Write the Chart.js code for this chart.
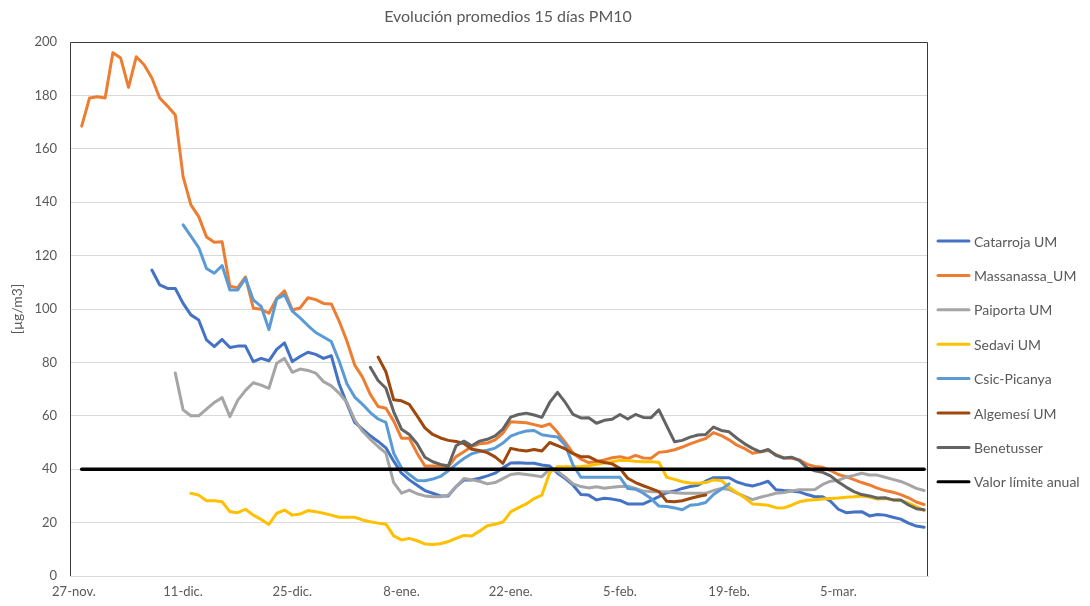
<!DOCTYPE html>
<html>
<head>
<meta charset="utf-8">
<script src="https://cdn.jsdelivr.net/npm/chart.js@4/dist/chart.umd.min.js"></script>
<style>
  html, body { margin: 0; padding: 0; background: #fff; }
  #wrap { width: 1090px; height: 606px; }
</style>
</head>
<body>
<div id="wrap"><canvas id="chart" width="1090" height="606"></canvas></div>
<script>
// Titoli ed etichette
const chartTitle = 'Evolución promedios 15 días PM10';
const yTitle = '[µg/m3]';
const tickLabels = ['27-nov.', '11-dic.', '25-dic.', '8-ene.', '22-ene.', '5-feb.', '19-feb.', '5-mar.'];
const tickEvery = 14;
const numDays = 110; // 27-nov .. 16-mar

// Serie giornaliere (primo giorno = indice dal 27-nov)
const catarrojaStart = 10;
const catarroja = [114.6, 109, 107.7, 107.7, 102.1, 97.8, 95.9, 88.4, 85.9, 88.6,
  85.6, 86.1, 86.1, 80.3, 81.5, 80.6, 84.9, 87.3, 80.3, 82.2,
  83.8, 83, 81.5, 82.5, 72, 64.5, 57.5, 55, 52.5, 50.4,
  48, 43, 38.5, 36, 34, 32, 31, 30, 30, 33.5,
  36, 36, 36.6, 37.5, 38.5, 40.5, 42.3, 42.4, 42.2, 42.2,
  41.6, 41.2, 38.5, 36.5, 34, 30.5, 30.3, 28.5, 29.1, 28.8,
  28.3, 27, 27, 27, 28.3, 29.7, 31.2, 31.8, 32.8, 33.5,
  34, 35.5, 36.8, 36.8, 36.8, 35.2, 34.3, 33.7, 34.5, 35.5,
  32.3, 32, 31.8, 31.5, 30.5, 29.7, 29.7, 28, 25, 23.7,
  24, 24.1, 22.5, 23, 22.8, 22, 21.3, 19.8, 18.7, 18.3];

const massanassaStart = 1;
const massanassa = [168.5, 179, 179.5, 179, 196, 194, 183, 194.5, 191.5, 186.5,
  179, 176, 172.7, 149.6, 139, 134.6, 127, 125, 125.2, 108.5,
  108, 112, 100.3, 99.9, 98.4, 104, 106.8, 99.6, 100.4, 104.2,
  103.5, 102.1, 101.9, 95.5, 88, 79, 74.5, 68, 63.5, 62.8,
  58, 51.6, 51.6, 46, 41.2, 41.2, 41.2, 41, 44.7, 46.5,
  48.5, 49.5, 49.8, 51, 53.5, 57.8, 57.6, 57.4, 56.7, 56,
  57, 53.8, 50, 46, 43.8, 42.5, 42.8, 43.5, 44.3, 44.7,
  44, 45.2, 44.2, 44.1, 46.3, 46.6, 47.3, 48.3, 49.5, 50.5,
  51.5, 53.7, 52.6, 51, 49, 47.7, 46, 46.5, 47, 45.5,
  44.2, 44.1, 43.5, 41.8, 41, 40.7, 39.5, 38, 37.2, 36.1,
  35, 34.1, 32.9, 32, 31.4, 30.5, 29.3, 27.7, 26.8];

const paiportaStart = 13;
const paiporta = [76, 62.2, 60, 60, 62.5, 65, 66.8,
  59.7, 65.8, 69.5, 72.4, 71.5, 70.3, 79.7, 81.5, 76.3, 77.5,
  77, 76, 72.8, 71.2, 68.5, 65, 58.5, 54.2, 51.2, 48.5,
  46, 35, 31, 32.2, 30.8, 30, 29.7, 29.7, 30.3, 33.4,
  36.5, 36, 35.5, 34.5, 35, 36.5, 38, 38.4, 38, 37.6,
  37.2, 40, 39.3, 37, 34.5, 33.5, 33, 33.4, 32.9, 33.2,
  33.5, 33.6, 32.8, 31.8, 31.6, 31.6, 31.6, 31.2, 31, 31,
  31, 31, 32, 32.8, 32.4, 31, 29.8, 28.6, 29.5, 30.2,
  31, 31.3, 31.8, 32.3, 32.3, 32.4, 34.3, 35.5, 35.8, 37,
  37.7, 38.5, 37.8, 37.8, 37, 36.2, 35.4, 34.2, 32.8, 32];

const sedaviStart = 15;
const sedavi = [31, 30.3, 28.2, 28.2, 27.8,
  24.1, 23.7, 25, 22.8, 21.2, 19.3, 23.5, 24.7, 22.8, 23.2,
  24.5, 24.1, 23.5, 22.8, 22, 22, 22, 21, 20.3, 19.8,
  19.4, 15, 13.5, 14.1, 13.2, 12, 11.8, 12.1, 12.9, 14.1,
  15.2, 15, 16.8, 18.8, 19.4, 20.2, 24, 25.6, 27, 29,
  30.3, 38.7, 40.9, 40.9, 40.9, 41, 41.3, 41.8, 42.3, 42.8,
  43.3, 43.3, 43, 42.8, 42.8, 42.6, 37, 36.2, 35.3, 34.8,
  34.7, 35, 36, 35.8, 33.2, 31.2, 29.3, 27, 26.8, 26.5,
  25.6, 25.5, 26.5, 27.8, 28.4, 28.6, 28.8, 29, 29.2, 29.5,
  29.7, 30, 29.6, 28.8, 29, 28.6, 28.3, 27.3, 26, 24.5];

const csicStart = 14;
const csic = [131.5, 127.3, 123, 115.2, 113.4, 116.3,
  107.1, 107.1, 111.5, 103.4, 101, 92.3, 103.8, 105.3, 99.2, 96.7,
  93.8, 91.2, 89.5, 87.8, 80.5, 72, 67, 64.3, 61.2, 58.8,
  57.5, 46, 40.5, 38, 35.8, 35.7, 36.3, 37.3, 39.4, 41.8,
  44, 45.8, 46.6, 47.1, 47.9, 49.8, 52.4, 53.5, 54.3, 54.5,
  52.9, 52.4, 52.1, 49, 41.5, 37, 37, 37, 37, 37,
  37, 32.8, 32.5, 31, 29, 26.2, 26, 25.5, 24.8, 26.5,
  26.8, 27.5, 30.5, 32.5, 34.5];

const algemesiStart = 39;
const algemesi = [82, 76.5, 66, 65.6, 64.3, 60, 55.5, 53, 51.7, 50.8, 50.4,
  49.6, 47.5, 47, 46.2, 44.6, 42.2, 47.8, 47.2, 46.8, 47.4,
  46.8, 50, 48.8, 47.6, 45.8, 44.7, 44.7, 43.2, 42.5, 42,
  40.3, 36.6, 35, 33.8, 32.7, 31.6, 28, 27.8, 28.2, 29,
  29.8, 30.3];

const benetusserStart = 38;
const benetusser = [78.2, 73.2, 70.3, 61.5, 55, 53, 49.5, 44.5, 42.8, 41.8, 41.2, 48.8,
  50.5, 48.8, 50.5, 51.2, 52.5, 55, 59.5, 60.5, 61, 60.3,
  59.4, 65, 68.8, 65, 60.5, 59.2, 59.3, 57.2, 58.3, 58.7,
  60.5, 58.8, 60.5, 59.4, 59.3, 62.2, 56.2, 50.3, 50.8, 52,
  52.8, 53, 55.8, 54.5, 54, 51.6, 49.5, 47.8, 46.5, 47.4,
  45.2, 44.2, 44.5, 43.3, 40.5, 39.4, 38.8, 37.5, 35.2, 33.3,
  31.6, 30.5, 30, 29.2, 29.3, 28.5, 28.5, 26.6, 25.2, 24.8];

// Valor limite anual: dal primo all'ultimo giorno
const limitValue = 40;
const limitFirstDay = 1;
const limitLastDay = 109;

const FONT = 'Lato';
const TEXT_COLOR = '#595959';

function pad(start, values) {
  const out = new Array(numDays).fill(null);
  values.forEach((v, i) => { out[start + i] = v; });
  return out;
}

function limitData() {
  const out = new Array(numDays).fill(null);
  out[limitFirstDay] = limitValue;
  out[limitLastDay] = limitValue;
  return out;
}

const dayLabels = Array.from({ length: numDays }, (_, i) => i);

const series = [
  { label: 'Catarroja UM', color: '#4472C4', data: pad(catarrojaStart, catarroja) },
  { label: 'Massanassa_UM', color: '#ED7D31', data: pad(massanassaStart, massanassa) },
  { label: 'Paiporta UM', color: '#A5A5A5', data: pad(paiportaStart, paiporta) },
  { label: 'Sedavi UM', color: '#FFC000', data: pad(sedaviStart, sedavi) },
  { label: 'Csic-Picanya', color: '#5B9BD5', data: pad(csicStart, csic) },
  { label: 'Algemesí UM', color: '#9E480E', data: pad(algemesiStart, algemesi) },
  { label: 'Benetusser', color: '#636363', data: pad(benetusserStart, benetusser) },
  { label: 'Valor límite anual', color: '#000000', data: limitData(), width: 3.5 }
];

// Titolo centrato come in Excel
const titlePlugin = {
  id: 'excelTitle',
  afterDraw(chart) {
    const ctx = chart.ctx;
    ctx.save();
    ctx.font = '16px ' + FONT;
    ctx.fillStyle = TEXT_COLOR;
    ctx.textAlign = 'center';
    ctx.textBaseline = 'middle';
    ctx.fillText(chartTitle, 508, 17);
    ctx.restore();
  }
};

// Bordo dell'area del grafico (sopra, sinistra, destra)
const framePlugin = {
  id: 'frame',
  beforeDatasetsDraw(chart) {
    const { ctx, chartArea: a } = chart;
    ctx.save();
    ctx.strokeStyle = '#3a3a3a';
    ctx.lineWidth = 1;
    ctx.beginPath();
    ctx.moveTo(a.left + 0.5, a.bottom);
    ctx.lineTo(a.left + 0.5, a.top + 0.5);
    ctx.lineTo(a.right - 0.5, a.top + 0.5);
    ctx.lineTo(a.right - 0.5, a.bottom);
    ctx.stroke();
    ctx.restore();
  }
};

// Legenda a destra
const legendPlugin = {
  id: 'sideLegend',
  afterDraw(chart) {
    const ctx = chart.ctx;
    const x0 = chart.chartArea.right + 10;
    const top = 241, gap = 34.4;
    ctx.save();
    ctx.font = '14px ' + FONT;
    ctx.textBaseline = 'middle';
    ctx.lineCap = 'round';
    chart.data.datasets.forEach((ds, i) => {
      const y = top + i * gap;
      ctx.strokeStyle = ds.borderColor;
      ctx.lineWidth = 3;
      ctx.beginPath();
      ctx.moveTo(x0, y);
      ctx.lineTo(x0 + 31, y);
      ctx.stroke();
      ctx.fillStyle = TEXT_COLOR;
      ctx.fillText(ds.label, x0 + 36, y + 1);
    });
    ctx.restore();
  }
};

const ctx = document.getElementById('chart').getContext('2d');
new Chart(ctx, {
  type: 'line',
  data: {
    labels: dayLabels,
    datasets: series.map((s, i) => ({
      label: s.label,
      data: s.data,
      borderColor: s.color,
      backgroundColor: s.color,
      borderWidth: s.width || 3,
      pointRadius: 0,
      pointHoverRadius: 0,
      tension: 0,
      spanGaps: true,
      borderJoinStyle: 'round',
      borderCapStyle: 'round',
      fill: false,
      order: series.length - i
    }))
  },
  options: {
    responsive: false,
    animation: false,
    devicePixelRatio: 1,
    layout: { padding: { top: 42, right: 162, left: 0, bottom: 0 } },
    plugins: {
      legend: { display: false },
      title: { display: false },
      tooltip: { enabled: false }
    },
    scales: {
      x: {
        type: 'category',
        offset: true,
        grid: {
          offset: true,
          drawOnChartArea: false,
          drawTicks: true,
          tickLength: 5,
          color: c => (c.index % tickEvery === 0) ? '#D9D9D9' : 'rgba(0,0,0,0)'
        },
        border: { display: true, color: '#D9D9D9', width: 1 },
        ticks: {
          autoSkip: false,
          maxRotation: 0,
          minRotation: 0,
          padding: 3,
          color: TEXT_COLOR,
          font: { family: FONT, size: 13 },
          callback: (v, i) => (i % tickEvery === 0) ? tickLabels[i / tickEvery] : null
        },
        afterFit: s => { s.height = 30; }
      },
      y: {
        min: 0,
        max: 200,
        ticks: {
          stepSize: 20,
          padding: 13,
          color: TEXT_COLOR,
          font: { family: FONT, size: 13 }
        },
        grid: { color: '#D9D9D9', lineWidth: 1, drawTicks: false },
        border: { display: false },
        title: {
          display: true,
          text: yTitle,
          color: TEXT_COLOR,
          font: { family: FONT, size: 14 },
          padding: { top: 9, bottom: 0 }
        },
        afterFit: s => { s.width = 70; }
      }
    }
  },
  plugins: [framePlugin, titlePlugin, legendPlugin]
});
</script>
</body>
</html>
